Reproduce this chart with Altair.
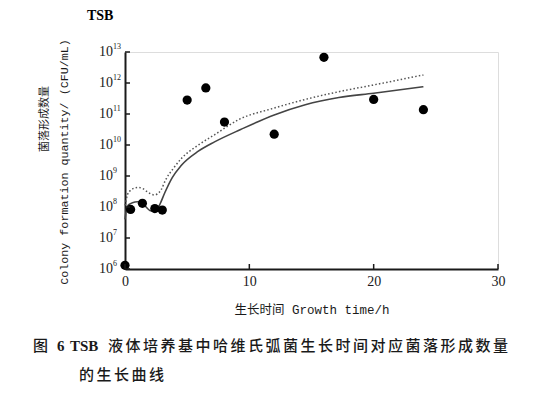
import altair as alt
import pandas as pd

# Observed colony counts (log10 CFU/mL) vs growth time (h)
time_pts = [0.0, 0.45, 1.4, 2.4, 3.0, 5.0, 6.5, 8.0, 12.0, 16.0, 20.0, 24.0]
log_pts = [6.12, 7.92, 8.12, 7.95, 7.90, 11.45, 11.84, 10.74, 10.35, 12.83, 11.47, 11.14]

# Fitted curve (solid)
solid_t = [0.0, 0.1, 0.2, 0.4, 0.6, 1.0, 1.4, 1.7, 2.0, 2.4, 2.6, 2.8, 3.2, 3.8, 4.5, 5.9, 7.2, 9.3, 12.0, 14.5, 17.2, 20.0, 24.0]
solid_v = [7.6, 7.9, 8.02, 8.1, 8.14, 8.17, 8.12, 8.0, 7.89, 7.86, 7.92, 8.08, 8.46, 8.95, 9.33, 9.8, 10.1, 10.5, 10.97, 11.3, 11.53, 11.67, 11.88]

# Upper curve (dotted)
dotted_t = [0.0, 0.2, 0.4, 1.0, 1.4, 1.8, 2.35, 2.6, 2.9, 3.26, 3.9, 4.55, 5.9, 7.2, 9.2, 11.9, 14.5, 17.2, 19.9, 24.0]
dotted_v = [8.05, 8.4, 8.52, 8.63, 8.6, 8.49, 8.39, 8.42, 8.55, 8.87, 9.25, 9.57, 10.0, 10.33, 10.83, 11.18, 11.47, 11.72, 11.93, 12.26]

x_ticks = [0, 10, 20, 30]
y_ticks = [6, 7, 8, 9, 10, 11, 12, 13]
y_base = ["10", "10", "10", "10", "10", "10", "10", "10"]
y_exps = ["6", "7", "8", "9", "10", "11", "12", "13"]

title_text = "TSB"
x_title = "生长时间 Growth time/h"
y_title_cn = "菌落形成数量"
y_title_en = "Colony formation quantity/ (CFU/mL)"
cap_fig = "图"
cap_num = "6"
cap_tsb = "TSB"
cap_line1 = "液体培养基中哈维氏弧菌生长时间对应菌落形成数量"
cap_line2 = "的生长曲线"

W, H = 373, 217
xs = alt.Scale(domain=[0, 30], nice=False, zero=False)
ys = alt.Scale(domain=[6, 13], nice=False, zero=False)
INK = "#1a1a1a"
SP = "\u2006"

pts = pd.DataFrame({"t": time_pts, "v": log_pts})
sol = pd.DataFrame({"t": solid_t, "v": solid_v})
dot = pd.DataFrame({"t": dotted_t, "v": dotted_v})
xt = pd.DataFrame({"t": x_ticks})
yt = pd.DataFrame({"v": y_ticks, "b": y_base, "e": y_exps})

x_axis = alt.Axis(values=x_ticks, ticks=False, labelPadding=5, labelFont="Liberation Serif",
                  labelFontSize=14, labelColor=INK, domainColor=INK, domainWidth=2,
                  labelFlush=False, labelOverlap=False,
                  grid=False, title=x_title, titleFont="Liberation Mono, Noto Sans CJK SC",
                  titleFontSize=12.5, titleFontWeight="normal", titleColor=INK, titlePadding=15)
y_axis = alt.Axis(values=y_ticks, ticks=False, labels=False,
                  domainColor=INK, domainWidth=2, grid=False, title=None)


def X(f):
    return alt.X(f, scale=xs, axis=x_axis)


def Y(f):
    return alt.Y(f, scale=ys, axis=y_axis)


solid = alt.Chart(sol).mark_line(color="#444444", strokeWidth=1.6, interpolate="monotone").encode(
    x=X("t:Q"), y=Y("v:Q"))
dotted = alt.Chart(dot).mark_line(color="#555555", strokeWidth=1.5, strokeDash=[1.5, 2.2],
                                  interpolate="monotone").encode(x=X("t:Q"), y=Y("v:Q"))
points = alt.Chart(pts).mark_circle(color="#000000", size=85, opacity=1).encode(
    x=X("t:Q"), y=Y("v:Q"))

ytick_marks = alt.Chart(yt).mark_rule(color=INK, strokeWidth=1.5).encode(
    y=Y("v:Q"), x=alt.value(0), x2=alt.value(5))
xtick_marks = alt.Chart(xt).mark_rule(color=INK, strokeWidth=1.5).encode(
    x=X("t:Q"), y=alt.value(H), y2=alt.value(H - 5))
bases = alt.Chart(yt).mark_text(font="Liberation Serif", fontSize=14, align="right",
                                baseline="middle", color=INK).encode(
    y=Y("v:Q"), x=alt.value(-12), text="b:N")
exps = alt.Chart(yt).mark_text(font="Liberation Serif", fontSize=8, align="left",
                               baseline="middle", dy=-5, color=INK).encode(
    y=Y("v:Q"), x=alt.value(-12), text="e:N")


def label(txt, x, y, **kw):
    return alt.Chart(pd.DataFrame({"s": [txt]})).mark_text(**kw).encode(
        text="s:N", x=alt.value(x), y=alt.value(y))


tsb = label(title_text, -38, -32, font="Liberation Serif", fontSize=14, fontWeight="bold",
            align="left", baseline="alphabetic", color="#000000")
ycn = label(y_title_cn, -80, 67, font="Noto Sans CJK SC", fontSize=11, angle=270,
            align="center", baseline="middle", color=INK)
yen = label(y_title_en, -61, 110, font="Liberation Mono, Noto Sans CJK SC", fontSize=11.7,
            angle=270, align="center", baseline="middle", color=INK)
c1 = label(cap_fig, -92, 294, font="Noto Sans CJK SC", fontSize=15, fontWeight=500,
           align="left", baseline="middle", color=INK)
c2 = label(cap_num, -68, 294, font="Liberation Serif", fontSize=15, fontWeight="bold",
           align="left", baseline="middle", color=INK)
c3 = label(cap_tsb, -55, 294, font="Liberation Serif", fontSize=15, fontWeight="bold",
           align="left", baseline="middle", color=INK)
c4 = label(SP.join(cap_line1), -17, 294, font="Noto Sans CJK SC", fontSize=15, fontWeight=500,
           align="left", baseline="middle", color=INK)
c5 = label(SP.join(cap_line2), -46, 323, font="Noto Sans CJK SC", fontSize=15, fontWeight=500,
           align="left", baseline="middle", color=INK)

chart = alt.layer(solid, dotted, points, ytick_marks, xtick_marks, bases, exps,
                  tsb, ycn, yen, c1, c2, c3, c4, c5).properties(
    width=W, height=H,
    autosize=alt.AutoSizeParams(type="none"),
    padding={"left": 117, "top": 44, "right": 42, "bottom": 117},
).configure_view(stroke=None).configure(background="white")

chart.save("out.html", embed_options={"renderer": "svg", "actions": False})
